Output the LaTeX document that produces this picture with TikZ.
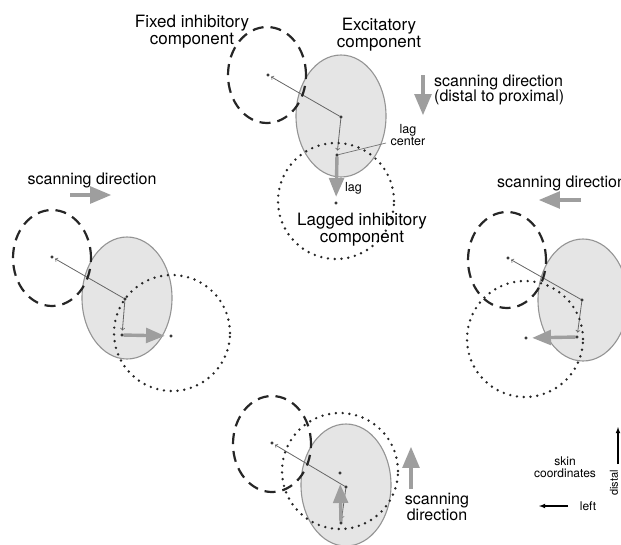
\documentclass[tikz,border=0pt]{standalone}
\usepackage{fontspec}
\setmainfont{TeX Gyre Heros}
\usepackage{xcolor}
\usepackage{tikz}
\usetikzlibrary{arrows}
\usetikzlibrary{backgrounds}
\usetikzlibrary{shapes,shapes.geometric}
\pgfdeclarelayer{edgelayer}
\pgfdeclarelayer{nodelayer}
\pgfsetlayers{background,edgelayer,nodelayer,main}
\definecolor{rimgray}{rgb}{0.58,0.58,0.58}
\definecolor{fieldgray}{rgb}{0.9,0.9,0.9}
\definecolor{scangray}{rgb}{0.62,0.62,0.62}
\tikzstyle{none}=[inner sep=0mm]
\tikzstyle{black dot}=[inner sep=0.9pt,minimum width=0pt,minimum height=0pt,fill=black!80,draw=black!80,shape=circle]
\tikzstyle{dot}=[black dot]
\tikzstyle{exc}=[shape=ellipse,draw=rimgray,fill=fieldgray,line width=1.1pt,minimum width=90pt,minimum height=122pt,inner sep=0pt]
\tikzstyle{fixinh}=[shape=ellipse,draw=black!85,line width=2.2pt,dash pattern=on 11pt off 7pt,minimum width=78pt,minimum height=96pt,inner sep=0pt]
\tikzstyle{laginh}=[shape=circle,draw=black!85,line width=2.7pt,line cap=round,dash pattern=on 0pt off 6.8pt,minimum size=116pt,inner sep=0pt]
\tikzstyle{diredge}=[->,draw=black!60,line width=0.8pt]
\tikzstyle{lagedge}=[-triangle 45,draw=scangray,line width=3.4pt]
\tikzstyle{scanarrow}=[-triangle 45,draw=scangray,line width=4pt]
\tikzstyle{pointer}=[draw=black!55,line width=0.7pt]
\tikzstyle{biglabel}=[inner sep=0mm,align=center,font=\fontsize{17}{17}\selectfont]
\tikzstyle{scanlabel}=[inner sep=0mm,align=left,font=\fontsize{16}{15.5}\selectfont]
\tikzstyle{smalllabel}=[inner sep=0mm,align=center,font=\fontsize{12.5}{10.5}\selectfont]
\tikzstyle{axis}=[-latex,draw=black,line width=1.1pt]
\begin{document}
\begin{tikzpicture}[x=1pt,y=-1pt]
	\clip (0,0) rectangle (621,544);
	\begin{pgfonlayer}{background}
		\node [style=exc] (e1) at (341, 116) {};
		\node [style=exc] (e2) at (127, 298) {};
		\node [style=exc] (e3) at (583, 300) {};
		\node [style=exc] (e4) at (346, 485) {};
	\end{pgfonlayer}
	\begin{pgfonlayer}{nodelayer}
		% top: scanning distal to proximal
		\node [style=fixinh] (f1) at (267, 75) {};
		\node [style=laginh] (l1) at (336, 201) {};
		\node [style=dot] (c1) at (341, 117) {};
		\node [style=dot] (fc1) at (268, 75) {};
		\node [style=dot] (lc1) at (337, 155) {};
		\node [style=dot] (lg1) at (336, 203) {};
		\node [style=none] (pt1) at (386, 143) {};
		% left
		\node [style=fixinh] (f2) at (52, 258) {};
		\node [style=laginh] (l2) at (172, 333) {};
		\node [style=dot] (c2) at (125, 299) {};
		\node [style=dot] (fc2) at (52, 257) {};
		\node [style=dot] (lc2) at (122, 335) {};
		\node [style=dot] (lg2) at (171, 336) {};
		% right
		\node [style=fixinh] (f3) at (507, 260) {};
		\node [style=laginh] (l3) at (525, 339) {};
		\node [style=dot] (c3) at (582, 300) {};
		\node [style=dot] (fc3) at (508, 258) {};
		\node [style=dot] (lc3) at (577, 337) {};
		\node [style=dot] (lg3) at (526, 338) {};
		% bottom
		\node [style=fixinh] (f4) at (272, 444) {};
		\node [style=laginh] (l4) at (340, 471) {};
		\node [style=dot] (c4) at (346, 487) {};
		\node [style=dot] (fc4) at (272, 443) {};
		\node [style=dot] (lc4) at (341, 523) {};
		\node [style=dot] (lg4) at (340, 473) {};
		% scanning arrows
		\node [style=none] (s1a) at (423, 75) {};
		\node [style=none] (s1b) at (423, 115) {};
		\node [style=none] (s2a) at (70, 195) {};
		\node [style=none] (s2b) at (111, 195) {};
		\node [style=none] (s3a) at (581, 200) {};
		\node [style=none] (s3b) at (539, 200) {};
		\node [style=none] (s4a) at (411, 489) {};
		\node [style=none] (s4b) at (411, 447) {};
		% labels
		\node [style=biglabel] (t1) at (192, 32) {Fixed inhibitory\\component};
		\node [style=biglabel] (t2) at (379, 35) {Excitatory\\component};
		\node [style=biglabel] (t3) at (362, 230) {Lagged inhibitory\\component};
		\node [style=smalllabel] (t4) at (408, 135) {lag\\center};
		\node [style=smalllabel, anchor=west] (t5) at (345, 188) {lag};
		\node [style=scanlabel, anchor=west] (t6) at (434, 90) {scanning direction\\(distal to proximal)};
		\node [style=scanlabel] (t7) at (92, 180) {scanning direction};
		\node [style=scanlabel, anchor=west] (t8) at (497, 183) {scanning direction};
		\node [style=scanlabel, align=center] (t9) at (437, 507) {scanning\\direction};
		% skin coordinates
		\node [style=smalllabel, font=\fontsize{12}{12}\selectfont] (k1) at (565, 467) {skin\\coordinates};
		\node [style=smalllabel, font=\fontsize{12}{12}\selectfont] (k2) at (588, 506) {left};
		\node [style=none] (k3a) at (568, 506) {};
		\node [style=none] (k3b) at (539, 506) {};
		\node [style=none] (k4a) at (618, 464) {};
		\node [style=none] (k4b) at (618, 427) {};
		\node [style=smalllabel, font=\fontsize{11}{11}\selectfont, rotate=90] (k5) at (614, 483) {distal};
	\end{pgfonlayer}
	\begin{pgfonlayer}{edgelayer}
		\draw [style=diredge, shorten >=2pt] (c1) to (fc1);
		\draw [style=diredge, shorten >=3pt] (c1) to (lc1);
		\draw [style=lagedge, shorten >=5pt] (lc1) to (lg1);
		\draw [style=pointer] (lc1) to (pt1.center);
		\draw [style=diredge, shorten >=2pt] (c2) to (fc2);
		\draw [style=diredge, shorten >=3pt] (c2) to (lc2);
		\draw [style=lagedge, shorten >=5pt] (lc2) to (lg2);
		\draw [style=diredge, shorten >=2pt] (c3) to (fc3);
		\draw [style=diredge, shorten >=3pt] (c3) to (lc3);
		\draw [style=lagedge, shorten >=5pt] (lc3) to (lg3);
		\draw [style=diredge, shorten >=2pt] (c4) to (fc4);
		\draw [style=diredge, shorten >=3pt] (c4) to (lc4);
		\draw [style=lagedge, shorten >=10pt] (lc4) to (lg4);
		\draw [style=scanarrow] (s1a.center) to (s1b.center);
		\draw [style=scanarrow] (s2a.center) to (s2b.center);
		\draw [style=scanarrow] (s3a.center) to (s3b.center);
		\draw [style=scanarrow] (s4a.center) to (s4b.center);
		\draw [style=axis] (k3a.center) to (k3b.center);
		\draw [style=axis] (k4a.center) to (k4b.center);
	\end{pgfonlayer}
\end{tikzpicture}
\end{document}
